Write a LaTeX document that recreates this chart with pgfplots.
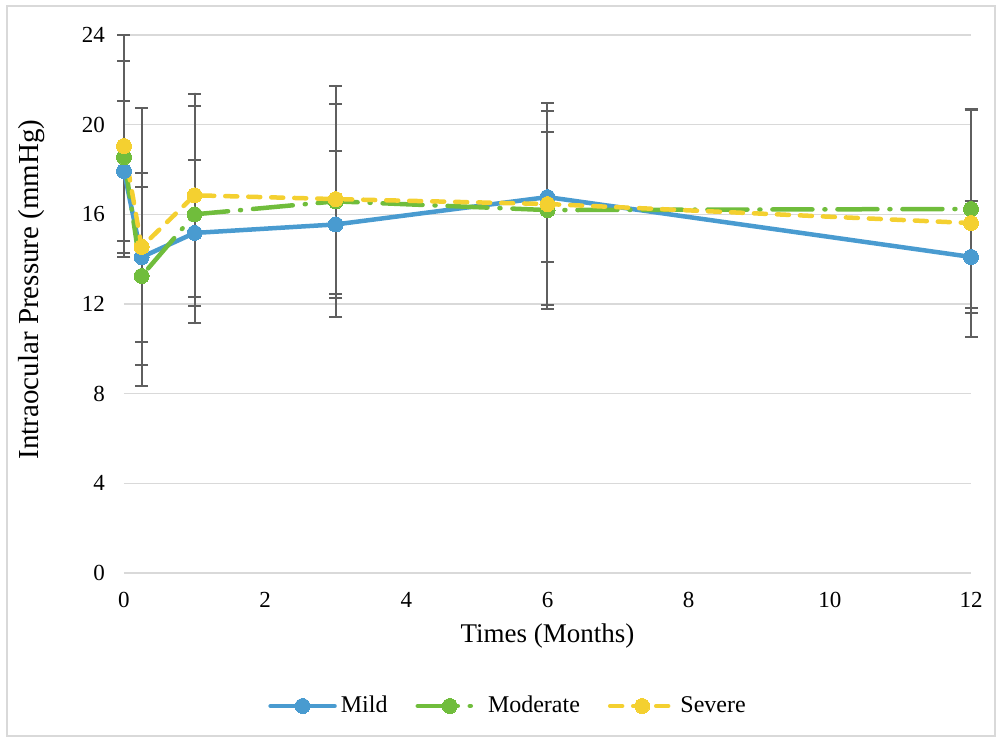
\documentclass[border=0pt]{standalone}
\usepackage{fontspec}
\setmainfont{Liberation Serif}
\usepackage{pgfplots}
\usepackage{pgfplotstable}
\pgfplotsset{compat=1.18}
\definecolor{cMild}{RGB}{73,155,208}
\definecolor{cMod}{RGB}{112,189,60}
\definecolor{cSev}{RGB}{244,208,48}
\definecolor{errgray}{RGB}{95,95,95}
\definecolor{gridgray}{RGB}{217,217,217}
\definecolor{framegray}{RGB}{217,217,217}

\pgfplotstableread{
x y e
0 17.93 3.14
0.25 14.09 3.77
1 15.17 3.25
3 15.55 3.29
6 16.77 2.89
12 14.10 2.49
}\mild
\pgfplotstableread{
x y e
0 18.55 4.27
0.25 13.25 3.96
1 16.00 4.85
3 16.58 5.15
6 16.19 4.41
12 16.24 4.41
}\moderate
\pgfplotstableread{
x y e
0 19.05 4.95
0.25 14.55 6.19
1 16.85 4.53
3 16.68 4.24
6 16.46 4.50
12 15.61 5.07
}\severe

\begin{document}
\begin{tikzpicture}
\useasboundingbox (-62pt,-84pt) rectangle (439pt,286.5pt);
\draw[framegray, line width=0.75pt] (-58.5pt,-81.5pt) rectangle (435.5pt,283.5pt);
\begin{axis}[
  at={(0pt,0pt)}, anchor=south west,
  scale only axis, width=423.5pt, height=269pt,
  xmin=0, xmax=12, ymin=0, ymax=24,
  xtick={0,2,...,12}, ytick={0,4,...,24},
  major tick length=0pt,
  axis line style={draw=none},
  ymajorgrids, major grid style={gridgray, line width=0.75pt},
  clip=false,
  /pgf/number format/assume math mode=true,
  tick label style={font=\fontsize{11.5}{13}\selectfont, text=black},
  yticklabel style={xshift=-6pt},
  xticklabel style={yshift=-6pt},
  xlabel={Times (Months)}, ylabel={Intraocular Pressure (mmHg)},
  xlabel style={font=\fontsize{13.5}{15}\selectfont, at={(rel axis cs:0.5,-0.1171)}, anchor=center},
  ylabel style={font=\fontsize{14.5}{16}\selectfont, at={(rel axis cs:-0.1086,0.527)}, anchor=center},
  legend columns=3,
  legend style={draw=none, fill=none, at={(rel axis cs:0.4546,-0.2472)}, anchor=center,
    font=\fontsize{12}{14}\selectfont,
    /tikz/every even column/.append style={column sep=12pt}},
  legend image code/.code={\draw[mark repeat=2,mark phase=2,#1] plot coordinates {(0pt,0pt) (16pt,0pt) (32pt,0pt)};},
  every axis plot/.append style={line width=2.25pt, line cap=round, line join=round},
  errbar/.style={forget plot, draw=none, mark=none,
    error bars/.cd, y dir=both, y explicit,
    error bar style={draw=errgray, draw opacity=1, line width=1pt, solid},
    error mark options={rotate=90, mark size=3.25pt, line width=1pt, draw=errgray, draw opacity=1, solid}},
]
\addplot[errbar] table[x=x,y=y,y error=e] {\mild};
\addplot[errbar] table[x=x,y=y,y error=e] {\moderate};
\addplot[errbar] table[x=x,y=y,y error=e] {\severe};

\addplot[cMild, solid, mark=*, mark size=3.75pt, mark options={solid, draw=cMild, fill=cMild, line width=0pt}] table[x=x,y=y] {\mild};
\addlegendentry{Mild}
\addplot[cMod, dash pattern=on 20pt off 6pt on 0.5pt off 6pt, mark=*, mark size=3.75pt, mark options={solid, draw=cMod, fill=cMod, line width=0pt}] table[x=x,y=y] {\moderate};
\addlegendentry{Moderate}
\addplot[cSev, dash pattern=on 6pt off 5.5pt, mark=*, mark size=3.75pt, mark options={solid, draw=cSev, fill=cSev, line width=0pt}] table[x=x,y=y] {\severe};
\addlegendentry{Severe}
\end{axis}
\end{tikzpicture}
\end{document}
